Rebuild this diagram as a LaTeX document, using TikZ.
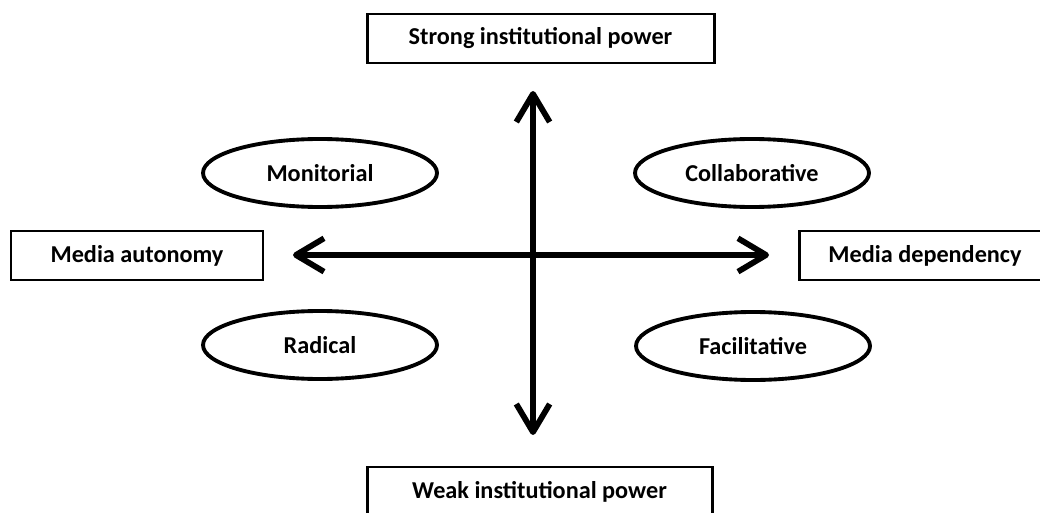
\documentclass[tikz,border=0pt]{standalone}
\usepackage{fontspec}
\setmainfont{Carlito}
\usetikzlibrary{arrows.meta,shapes.geometric}
\begin{document}
\begin{tikzpicture}[x=0.02cm,y=-0.02cm,
  labelbox/.style={draw=black,line width=1.7pt,fill=white,minimum width=#1*0.02cm,minimum height=49*0.02cm,inner sep=0pt,font=\bfseries\fontsize{13.8}{16}\selectfont},
  oval/.style={draw=black,line width=2.2pt,ellipse,minimum width=234*0.02cm,minimum height=68*0.02cm,inner sep=0pt,font=\bfseries\fontsize{13.8}{16}\selectfont},
  axis/.style={line width=3.3pt,line cap=round,{Straight Barb[length=16pt,width=19pt,line join=round]}-{Straight Barb[length=16pt,width=19pt,line join=round]}}]
\useasboundingbox (0,0) rectangle (1040,513);
\node[labelbox=347] (strong) at (540.5,38.5) {Strong institutional power};
\node[labelbox=345] (weak) at (539.5,491.5) {Weak institutional power};
\node[labelbox=252] (auto) at (137,255.5) {Media autonomy};
\node[labelbox=252] (dep) at (925,255.5) {Media dependency};
\node[oval] (mon) at (320,173) {Monitorial};
\node[oval] (col) at (752,173) {Collaborative};
\node[oval] (rad) at (320,345) {Radical};
\node[oval] (fac) at (753,346) {Facilitative};
\coordinate (top) at (533,91);
\coordinate (bot) at (533,435);
\coordinate (lft) at (293,255);
\coordinate (rgt) at (769,255);
\draw[axis] (top) -- (bot);
\draw[axis] (lft) -- (rgt);
\end{tikzpicture}
\end{document}
